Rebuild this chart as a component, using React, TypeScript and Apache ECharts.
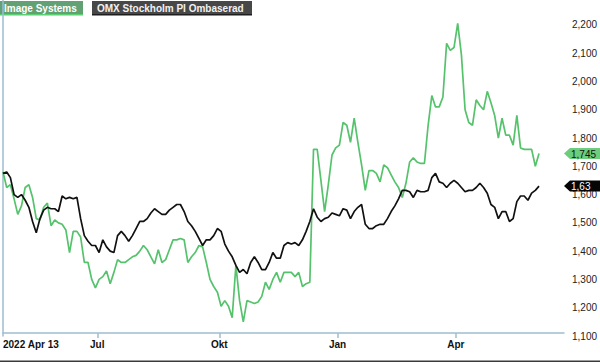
import React, { useEffect, useRef } from "react";
import * as echarts from "echarts";

// x position = trading-day index counted from 2022-04-13
const xTickLabels = ["2022 Apr 13", "Jul", "Okt", "Jan", "Apr"];
const xTickIndex = [0, 51, 117, 181, 245];
const xAxisMaxIndex = 303.5;
const sampleStep = 2; // trading days between samples

const seriesNames = ["Image Systems", "OMX Stockholm PI Ombaserad"];
const endTagLabels = ["1,745", "1,63"];

const imageSystems = [
  1680, 1625, 1635, 1585, 1530, 1560, 1625, 1635, 1590, 1515,
  1510, 1555, 1570, 1490, 1510, 1500, 1495, 1475, 1395, 1470,
  1470, 1450, 1360, 1360, 1300, 1270, 1300, 1310, 1330, 1285,
  1325, 1370, 1360, 1360, 1370, 1380, 1385, 1400, 1420, 1405,
  1380, 1355, 1405, 1360, 1370, 1405, 1440, 1440, 1445, 1440,
  1360, 1380, 1395, 1420, 1415, 1360, 1300, 1275, 1255, 1205,
  1225, 1205, 1165, 1350, 1225, 1150, 1225, 1220, 1215, 1220,
  1240, 1290, 1265, 1300, 1325, 1290, 1325, 1325, 1325, 1310,
  1325, 1275, 1285, 1290, 1760, 1760, 1650, 1540, 1635, 1740,
  1765, 1775, 1855, 1845, 1785, 1870, 1785, 1705, 1615, 1685,
  1685, 1675, 1645, 1705, 1695, 1670, 1645, 1625, 1590, 1640,
  1715, 1730, 1715, 1710, 1710, 1845, 1950, 1910, 1910, 1945,
  2135, 2110, 2120, 2205, 2095, 1900, 1855, 1845, 1935, 1915,
  1900, 1965, 1925, 1880, 1800, 1870, 1810, 1810, 1775, 1880,
  1765, 1760, 1760, 1760, 1700, 1745,
];

const omxRebased = [
  1675, 1680, 1660, 1600, 1590, 1600, 1580, 1555, 1505, 1465,
  1515, 1545, 1555, 1550, 1550, 1540, 1595, 1585, 1590, 1585,
  1590, 1515, 1455, 1435, 1420, 1420, 1395, 1440, 1415, 1400,
  1395, 1455, 1470, 1455, 1435, 1455, 1480, 1505, 1505, 1515,
  1535, 1550, 1540, 1530, 1530, 1545, 1555, 1565, 1565, 1540,
  1505, 1490, 1470, 1445, 1420, 1440, 1440, 1455, 1480, 1470,
  1425, 1400, 1380, 1350, 1325, 1335, 1320, 1360, 1380, 1360,
  1335, 1335, 1360, 1395, 1375, 1375, 1420, 1430, 1425, 1430,
  1420, 1440, 1470, 1505, 1550, 1520, 1505, 1515, 1520, 1535,
  1530, 1525, 1550, 1545, 1515, 1540, 1555, 1565, 1495, 1480,
  1480, 1490, 1495, 1495, 1515, 1540, 1560, 1585, 1615, 1615,
  1610, 1590, 1615, 1610, 1610, 1615, 1660, 1675, 1645, 1640,
  1625, 1640, 1650, 1640, 1625, 1610, 1615, 1615, 1625, 1640,
  1625, 1605, 1565, 1555, 1515, 1540, 1540, 1505, 1515, 1575,
  1595, 1595, 1580, 1605, 1615, 1630,
];

const yMin = 1100;
const yMax = 2288;
const yInterval = 100;

const FONT = "'Liberation Sans', Arial, sans-serif";
const GREEN = "#55c26c";
const AXIS_COLOR = "#9ebdd0";

function fmtThousands(v: number) {
  return String(Math.round(v)).replace(/\B(?=(\d{3})+(?!\d))/g, ",");
}

function legendGraphics() {
  return [
    { type: "rect", shape: { x: 0, y: 1, width: 83, height: 14 }, style: { fill: "#62a173" } },
    { type: "rect", shape: { x: 0, y: 14, width: 83, height: 1.5 }, style: { fill: "#5ad072" } },
    {
      type: "text",
      x: 4,
      y: 8,
      style: { text: seriesNames[0], fill: "#ffffff", font: `bold 10px ${FONT}`, verticalAlign: "middle" },
    },
    { type: "rect", shape: { x: 92, y: 1, width: 160, height: 14 }, style: { fill: "#474747" } },
    { type: "rect", shape: { x: 92, y: 14, width: 160, height: 1.5 }, style: { fill: "#1e1e1e" } },
    {
      type: "text",
      x: 97,
      y: 8,
      style: { text: seriesNames[1], fill: "#f2f2f2", font: `bold 10px ${FONT}`, verticalAlign: "middle" },
    },
    { type: "rect", shape: { x: 0, y: 360.5, width: 600, height: 1.5 }, style: { fill: "#3a3a3a" } },
  ];
}

function buildOption(extraGraphics: any[]) {
  return {
    animation: false,
    backgroundColor: "#ffffff",
    grid: { left: 0, right: 34, top: 0, bottom: 26, containLabel: false },
    xAxis: {
      type: "value",
      min: 0,
      max: xAxisMaxIndex,
      offset: -3,
      splitLine: { show: false },
      axisLine: { show: true, lineStyle: { color: AXIS_COLOR, width: 1.5 } },
      axisTick: {
        show: true,
        customValues: xTickIndex.slice(1),
        length: 5,
        lineStyle: { color: AXIS_COLOR, width: 1.5 },
      },
      axisLabel: {
        customValues: xTickIndex,
        alignMinLabel: "left",
        margin: 6,
        color: "#111111",
        fontFamily: FONT,
        fontSize: 10,
        fontWeight: "bold",
        formatter: (v: number) => {
          const i = xTickIndex.indexOf(Math.round(v));
          return i >= 0 ? xTickLabels[i] : "";
        },
      },
    },
    yAxis: {
      type: "value",
      position: "right",
      min: yMin,
      max: yMax,
      interval: yInterval,
      splitLine: { show: false },
      axisLine: { show: true, lineStyle: { color: AXIS_COLOR, width: 1.5 } },
      axisTick: { show: false },
      axisLabel: {
        showMaxLabel: false,
        margin: 8,
        color: "#222222",
        fontFamily: FONT,
        fontSize: 10,
        formatter: (v: number) => fmtThousands(v),
      },
    },
    series: [
      {
        name: seriesNames[0],
        type: "line",
        symbol: "none",
        data: imageSystems.map((v, i) => [i * sampleStep, v]),
        lineStyle: { color: GREEN, width: 1.7 },
        itemStyle: { color: GREEN },
      },
      {
        name: seriesNames[1],
        type: "line",
        symbol: "none",
        data: omxRebased.map((v, i) => [i * sampleStep, v]),
        lineStyle: { color: "#111111", width: 1.7 },
        itemStyle: { color: "#111111" },
      },
    ],
    graphic: [...legendGraphics(), ...extraGraphics],
  };
}

export default function App() {
  const ref = useRef<HTMLDivElement>(null);
  useEffect(() => {
    if (!ref.current) return;
    const chart = echarts.init(ref.current, null, { renderer: "svg" });
    chart.setOption(buildOption([]) as any);

    const tagDefs = [
      { value: imageSystems[imageSystems.length - 1], fill: "#6ccd7d", text: "#111111", label: endTagLabels[0] },
      { value: omxRebased[omxRebased.length - 1], fill: "#050505", text: "#ffffff", label: endTagLabels[1] },
    ];
    const tags: any[] = [];
    tagDefs.forEach((t) => {
      const p = chart.convertToPixel({ gridIndex: 0 } as any, [xAxisMaxIndex, t.value]) as number[];
      const tx = p[0];
      const ty = p[1];
      tags.push({
        type: "polygon",
        shape: {
          points: [
            [tx, ty],
            [tx + 6, ty - 5.5],
            [600, ty - 5.5],
            [600, ty + 5.5],
            [tx + 6, ty + 5.5],
          ],
        },
        style: { fill: t.fill },
        z: 10,
      });
      tags.push({
        type: "text",
        x: tx + 7,
        y: ty + 0.5,
        z: 11,
        style: { text: t.label, fill: t.text, font: `10px ${FONT}`, verticalAlign: "middle" },
      });
    });
    chart.setOption(buildOption(tags) as any, true);

    return () => chart.dispose();
  }, []);
  return <div ref={ref} style={{ width: 600, height: 362, position: "absolute", left: 0, top: 0 }} />;
}
